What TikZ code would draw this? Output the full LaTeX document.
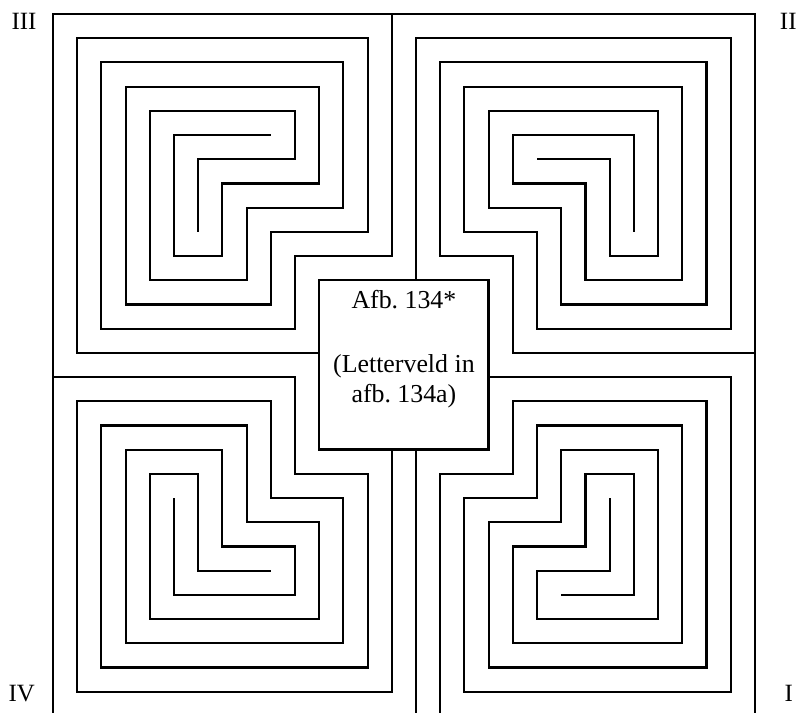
\documentclass[tikz,border=0pt]{standalone}
\usepackage{fontspec}
\setmainfont{Liberation Serif}

\begin{document}
\begin{tikzpicture}[x=0.5cm, y=-0.5cm,
    wall/.style={line width=1.25pt, line join=miter},
    fieldbox/.style={draw, line width=1.45pt, minimum size=3.5cm, inner sep=0pt},
    fieldtext/.style={align=center, inner sep=0pt, font=\fontsize{15.2}{17.6}\selectfont},
    numeral/.style={inner sep=0pt, font=\fontsize{14.6}{17.6}\selectfont}]
    % Fix the page size
    \useasboundingbox (-2.19,-0.58) rectangle (30.7,28.88);

    % Draw the outer frame (runs off the bottom edge)
    \draw[wall] (0,29.5) -- (0,0) -- (29,0) -- (29,29.5);

    % Draw quadrant III (top left)
    \draw[wall] (14,0) -- (14,10) -- (10,10) -- (10,13) -- (2,13) -- (2,2) -- (12,2) -- (12,8)
        -- (8,8) -- (8,11) -- (4,11) -- (4,4) -- (10,4) -- (10,6) -- (6,6) -- (6,9);
    \draw[wall] (11,14) -- (1,14) -- (1,1) -- (13,1) -- (13,9) -- (9,9) -- (9,12) -- (3,12)
        -- (3,3) -- (11,3) -- (11,7) -- (7,7) -- (7,10) -- (5,10) -- (5,5) -- (9,5);

    % Draw quadrant II (top right)
    \draw[wall] (29,14) -- (19,14) -- (19,10) -- (16,10) -- (16,2) -- (27,2) -- (27,12) -- (21,12)
        -- (21,8) -- (18,8) -- (18,4) -- (25,4) -- (25,10) -- (23,10) -- (23,6) -- (20,6);
    \draw[wall] (15,11) -- (15,1) -- (28,1) -- (28,13) -- (20,13) -- (20,9) -- (17,9) -- (17,3)
        -- (26,3) -- (26,11) -- (22,11) -- (22,7) -- (19,7) -- (19,5) -- (24,5) -- (24,9);

    % Draw quadrant IV (bottom left)
    \draw[wall] (0,15) -- (10,15) -- (10,19) -- (13,19) -- (13,27) -- (2,27) -- (2,17) -- (8,17)
        -- (8,21) -- (11,21) -- (11,25) -- (4,25) -- (4,19) -- (6,19) -- (6,23) -- (9,23);
    \draw[wall] (14,18) -- (14,28) -- (1,28) -- (1,16) -- (9,16) -- (9,20) -- (12,20) -- (12,26)
        -- (3,26) -- (3,18) -- (7,18) -- (7,22) -- (10,22) -- (10,24) -- (5,24) -- (5,20);

    % Draw quadrant I (bottom right)
    \draw[wall] (16,29.5) -- (16,19) -- (19,19) -- (19,16) -- (27,16) -- (27,27) -- (18,27) -- (18,21)
        -- (21,21) -- (21,18) -- (25,18) -- (25,25) -- (20,25) -- (20,23) -- (23,23) -- (23,20);
    \draw[wall] (18,15) -- (28,15) -- (28,28) -- (17,28) -- (17,20) -- (20,20) -- (20,17) -- (26,17)
        -- (26,26) -- (19,26) -- (19,22) -- (22,22) -- (22,19) -- (24,19) -- (24,24) -- (21,24);
    \draw[wall] (15,18) -- (15,29.5);

    % Draw the central field
    \node[fieldbox] (field) at (14.5,14.5) {};
    \node[fieldtext, anchor=north] (fieldtext) at (14.5,11.42)
        {Afb.~134*\\[19.6pt](Letterveld in\\afb.~134a)};

    % Add the quadrant numbers
    \node[numeral] (q3) at (-1.20,0.29) {III};
    \node[numeral] (q2) at (30.38,0.30) {II};
    \node[numeral] (q4) at (-1.29,28.07) {IV};
    \node[numeral] (q1) at (30.40,28.09) {I};
\end{tikzpicture}
\end{document}
